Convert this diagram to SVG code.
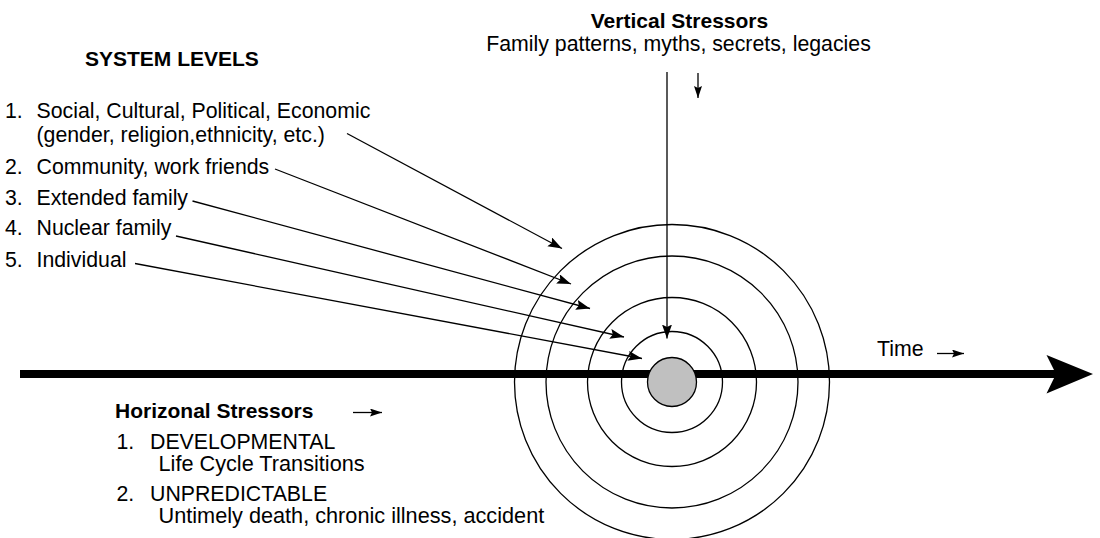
<svg xmlns="http://www.w3.org/2000/svg" width="1100" height="538" viewBox="0 0 1100 538">
  <defs>
    <style>
      text { font-family: "Liberation Sans", Arial, Helvetica, sans-serif; font-size: 21.3px; fill: #000; }
      .bold { font-weight: bold; font-size: 21px; }
      .mid { text-anchor: middle; }
      .sub { font-size: 21.7px; }
      .ring { fill: none; stroke: #000; stroke-width: 1.3; }
      .conn { fill: none; stroke: #000; stroke-width: 1.3; }
    </style>
    <!-- filled arrowhead for the level pointers and the vertical stressor line -->
    <marker id="arrow" markerUnits="userSpaceOnUse" markerWidth="16" markerHeight="12" refX="14" refY="5" orient="auto">
      <path d="M0,0 L14,5 L0,10 L2.5,5 z" fill="#000"/>
    </marker>
    <!-- smaller arrowhead for the inline direction hints -->
    <marker id="arrowSmall" markerUnits="userSpaceOnUse" markerWidth="14" markerHeight="10" refX="12" refY="4" orient="auto">
      <path d="M0,0 L12,4 L0,8 L2,4 z" fill="#000"/>
    </marker>
  </defs>

  <rect width="1100" height="538" fill="#fff"/>

  <!-- time axis -->
  <g id="time-axis">
    <rect x="20" y="370" width="1040" height="8" fill="#000"/>
    <path d="M1046.5,355 L1093,374 L1046.5,393.5 L1056,374 z" fill="#000"/>
  </g>

  <!-- concentric system rings around the individual -->
  <g id="rings">
    <circle class="ring" cx="672" cy="382" r="157.5"/>
    <circle class="ring" cx="672" cy="382" r="126"/>
    <circle class="ring" cx="672" cy="382" r="84.5"/>
    <circle class="ring" cx="672" cy="382" r="50.5"/>
  </g>
  <g id="core">
    <circle cx="672" cy="382" r="24.5" fill="#c0c0c0" stroke="#000" stroke-width="1.3"/>
  </g>

  <!-- system levels legend -->
  <g id="system-levels">
    <text class="bold" x="85" y="65.5">SYSTEM LEVELS</text>
    <text x="5" y="118">1.</text>
    <text x="36.5" y="118">Social, Cultural, Political, Economic</text>
    <text x="36.5" y="142">(gender, religion,ethnicity, etc.)</text>
    <text x="5" y="174">2.</text>
    <text x="36.5" y="174">Community, work friends</text>
    <text x="5" y="204.5">3.</text>
    <text x="36.5" y="204.5">Extended family</text>
    <text x="5" y="235">4.</text>
    <text x="36.5" y="235">Nuclear family</text>
    <text x="5" y="266.5">5.</text>
    <text x="36.5" y="266.5">Individual</text>
  </g>

  <!-- vertical stressors -->
  <g id="vertical-stressors">
    <text class="bold mid" x="679.5" y="27.5">Vertical Stressors</text>
    <text class="mid" x="678.5" y="51">Family patterns, myths, secrets, legacies</text>
  </g>

  <!-- horizontal stressors -->
  <g id="horizontal-stressors">
    <text class="bold" x="115" y="417.5">Horizonal Stressors</text>
    <text x="116.5" y="449">1.</text>
    <text x="150" y="449">DEVELOPMENTAL</text>
    <text class="sub" x="158.5" y="470.5">Life Cycle Transitions</text>
    <text x="116.5" y="500.5">2.</text>
    <text x="150" y="500.5">UNPREDICTABLE</text>
    <text class="sub" x="158.5" y="523">Untimely death, chronic illness, accident</text>
  </g>

  <!-- time label -->
  <g id="time-label">
    <text x="877" y="356">Time</text>
  </g>

  <!-- connectors -->
  <g id="connectors">
    <line class="conn" x1="347" y1="133.5" x2="562" y2="248.5" marker-end="url(#arrow)"/>
    <line class="conn" x1="275" y1="169" x2="571" y2="284" marker-end="url(#arrow)"/>
    <line class="conn" x1="192.5" y1="201" x2="590" y2="308.5" marker-end="url(#arrow)"/>
    <line class="conn" x1="176" y1="236" x2="624" y2="337" marker-end="url(#arrow)"/>
    <line class="conn" x1="135" y1="263.5" x2="642" y2="358.5" marker-end="url(#arrow)"/>
    <line class="conn" x1="667" y1="72" x2="667" y2="338.5" marker-end="url(#arrow)"/>
    <line class="conn" x1="698" y1="73" x2="698" y2="98" marker-end="url(#arrowSmall)"/>
    <line class="conn" x1="353" y1="412.5" x2="382" y2="412.5" marker-end="url(#arrowSmall)"/>
    <line class="conn" x1="937" y1="353.5" x2="964" y2="353.5" marker-end="url(#arrowSmall)"/>
  </g>
</svg>
